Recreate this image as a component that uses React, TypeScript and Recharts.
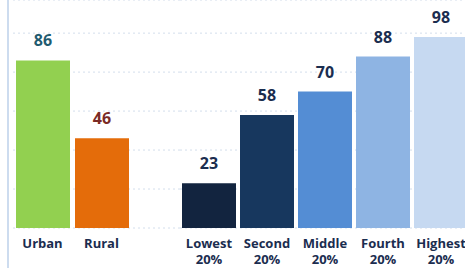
import React from "react";
import { BarChart, Bar, XAxis, YAxis, CartesianGrid, Cell, LabelList } from "recharts";

const areaNames = ["Urban", "Rural"];
const areaValues = [86, 46];
const areaColors = ["#92d050", "#e46c0a"];
const areaLabelColors = ["#1f5b70", "#7a2a25"];

const quintileNames = ["Lowest 20%", "Second 20%", "Middle 20%", "Fourth 20%", "Highest 20%"];
const quintileValues = [23, 58, 70, 88, 98];
const quintileColors = ["#12243f", "#17375e", "#548dd4", "#8eb4e3", "#c6d9f1"];
const quintileLabelColors = ["#1b2d4f", "#1b2d4f", "#1b2d4f", "#1b2d4f", "#1b2d4f"];

const yTicks = [0, 20, 40, 60, 80, 100];

const FONT = "'Open Sans', sans-serif";
const CHART_H = 268;

function CategoryTick({ x, y, payload }: any) {
  const lines = String(payload.value).split(" ");
  return (
    <text x={x} y={y} textAnchor="middle" fill="#1b2d4f" fontSize={13} fontWeight={700} fontFamily={FONT}>
      {lines.map((l, i) => (
        <tspan key={i} x={x} dy={i === 0 ? 20 : 16}>
          {l}
        </tspan>
      ))}
    </text>
  );
}

const valueLabel = (colors: string[]) => (props: any) => {
  const { x, y, width, value, index } = props;
  return (
    <text
      x={Number(x) + Number(width) / 2}
      y={Number(y) - 14}
      textAnchor="middle"
      fill={colors[index]}
      fontSize={16}
      fontWeight={700}
      fontFamily={FONT}
    >
      {value}
    </text>
  );
};

type PanelProps = {
  names: string[];
  values: number[];
  colors: string[];
  labelColors: string[];
  width: number;
  marginLeft: number;
  padRight: number;
};

function Panel({ names, values, colors, labelColors, width, marginLeft, padRight }: PanelProps) {
  const rows = names.map((name, i) => ({ name, value: values[i] }));
  return (
    <BarChart
      width={width}
      height={CHART_H}
      data={rows}
      margin={{ top: 0, right: 0, bottom: 0, left: marginLeft }}
      barSize={54}
    >
      <CartesianGrid vertical={false} stroke="#d3deec" strokeDasharray="2 3" />
      <YAxis hide domain={[0, 117]} ticks={yTicks} />
      <XAxis
        dataKey="name"
        height={40}
        axisLine={false}
        tickLine={false}
        tickSize={0}
        tickMargin={0}
        interval={0}
        padding={{ left: 0, right: padRight }}
        tick={<CategoryTick />}
      />
      <Bar dataKey="value" isAnimationActive={false}>
        {rows.map((_, i) => (
          <Cell key={i} fill={colors[i]} />
        ))}
        <LabelList dataKey="value" content={valueLabel(labelColors)} />
      </Bar>
    </BarChart>
  );
}

export default function App() {
  return (
    <div
      style={{
        position: "absolute",
        left: 0,
        top: 0,
        width: 465,
        height: CHART_H,
        overflow: "hidden",
        background: "#fff",
      }}
    >
      <div style={{ position: "absolute", left: 7, top: 0, width: 2, height: CHART_H, background: "#cddcef" }} />
      <div style={{ position: "absolute", left: 0, top: 0 }}>
        <Panel
          names={areaNames}
          values={areaValues}
          colors={areaColors}
          labelColors={areaLabelColors}
          width={180}
          marginLeft={13}
          padRight={49}
        />
      </div>
      <div style={{ position: "absolute", left: 180, top: 0 }}>
        <Panel
          names={quintileNames}
          values={quintileValues}
          colors={quintileColors}
          labelColors={quintileLabelColors}
          width={290}
          marginLeft={0}
          padRight={0}
        />
      </div>
    </div>
  );
}
